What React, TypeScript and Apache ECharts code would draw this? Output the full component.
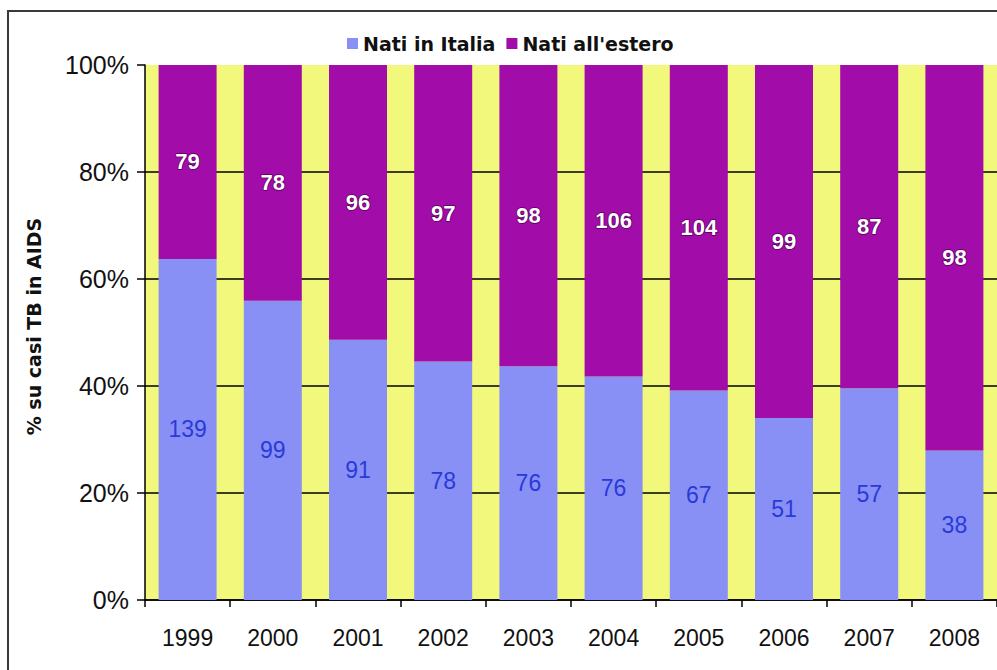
import React, { useEffect, useRef } from "react";
import * as echarts from "echarts";

const years = ["1999", "2000", "2001", "2002", "2003", "2004", "2005", "2006", "2007", "2008"];
const natiItalia = [139, 99, 91, 78, 76, 76, 67, 51, 57, 38];
const natiEstero = [79, 78, 96, 97, 98, 106, 104, 99, 87, 98];
const yTicks = [0, 20, 40, 60, 80, 100];

const totals = years.map((_, i) => natiItalia[i] + natiEstero[i]);
const pctItalia = natiItalia.map((v, i) => (v / totals[i]) * 100);
const pctEstero = natiEstero.map((v, i) => (v / totals[i]) * 100);

export default function App() {
  const ref = useRef<HTMLDivElement>(null);
  useEffect(() => {
    if (!ref.current) return;
    const chart = echarts.init(ref.current, null, { renderer: "svg" });
    chart.setOption({
      animation: false,
      backgroundColor: "#ffffff",
      graphic: [
        {
          type: "rect",
          shape: { x: 8, y: 11, width: 1200, height: 900 },
          style: { fill: "none", stroke: "#3a3a3a", lineWidth: 2 },
          z: 100,
        },
      ],
      legend: {
        left: 342,
        top: 29,
        itemWidth: 11,
        itemHeight: 11,
        itemGap: 11,
        icon: "rect",
        textStyle: {
          fontFamily: "DejaVu Sans",
          fontWeight: "bold",
          fontSize: 19,
          color: "#111",
        },
        data: ["Nati in Italia", "Nati all'estero"],
      },
      grid: {
        left: 145,
        top: 65,
        width: 868,
        height: 535,
        show: true,
        backgroundColor: "#f2f87c",
        borderWidth: 0,
      },
      xAxis: {
        type: "category",
        data: years,
        boundaryGap: true,
        axisLine: { lineStyle: { color: "#000", width: 1.5 } },
        axisTick: { show: true, length: 7, lineStyle: { color: "#000", width: 1.5 } },
        axisLabel: {
          fontFamily: "Liberation Sans",
          fontSize: 23,
          color: "#111",
          margin: 26,
        },
      },
      yAxis: {
        type: "value",
        min: yTicks[0],
        max: yTicks[yTicks.length - 1],
        interval: 20,
        name: "% su casi TB in AIDS",
        nameLocation: "middle",
        nameRotate: 90,
        nameGap: 102,
        nameTextStyle: {
          fontFamily: "DejaVu Sans",
          fontWeight: "bold",
          fontSize: 19,
          color: "#111",
          padding: [0, 0, 0, 12],
        },
        axisLine: { show: true, lineStyle: { color: "#000", width: 1.5 } },
        axisTick: { show: true, length: 8, lineStyle: { color: "#000", width: 1.5 } },
        axisLabel: {
          formatter: "{value}%",
          fontFamily: "Liberation Sans",
          fontSize: 25,
          color: "#111",
          margin: 16,
        },
        splitLine: {
          show: true,
          lineStyle: {
            color: ["#000", "#000", "#000", "#000", "#000", "transparent"],
            width: 1.5,
          },
        },
      },
      series: [
        {
          name: "Nati in Italia",
          type: "bar",
          stack: "tot",
          barWidth: 58,
          itemStyle: { color: "#8890f6" },
          data: pctItalia,
          label: {
            show: true,
            position: "inside",
            formatter: (p: any) => String(natiItalia[p.dataIndex]),
            fontFamily: "Liberation Sans",
            fontSize: 23,
            color: "#2a3ad8",
          },
        },
        {
          name: "Nati all'estero",
          type: "bar",
          stack: "tot",
          barWidth: 58,
          itemStyle: { color: "#a20ca8" },
          data: pctEstero,
          label: {
            show: true,
            position: "inside",
            formatter: (p: any) => String(natiEstero[p.dataIndex]),
            fontFamily: "Liberation Sans",
            fontWeight: "bold",
            fontSize: 22,
            color: "#fff",
            textBorderColor: "#5a0060",
            textBorderWidth: 1.5,
          },
        },
      ],
    });
    return () => chart.dispose();
  }, []);
  return (
    <div
      ref={ref}
      style={{ position: "fixed", left: 0, top: 0, width: 997, height: 670 }}
    />
  );
}
